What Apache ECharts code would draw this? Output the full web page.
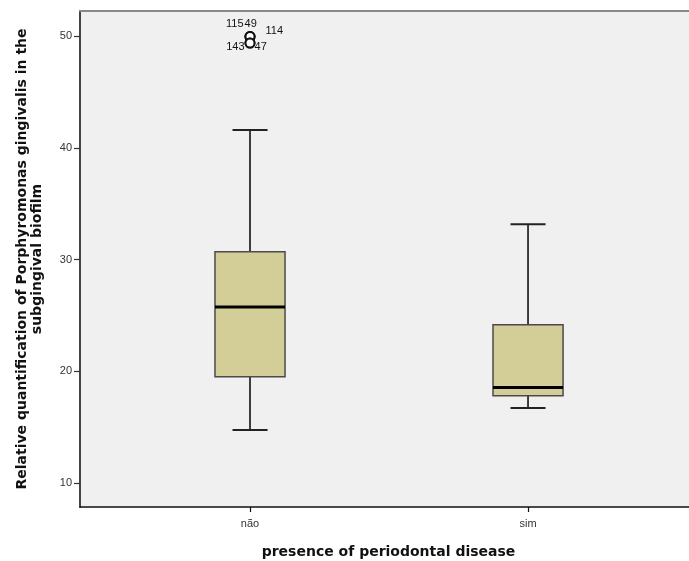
<!DOCTYPE html>
<html>
<head>
<meta charset="utf-8">
<script src="https://cdn.jsdelivr.net/npm/echarts@6/dist/echarts.min.js"></script>
<style>
  html, body { margin: 0; padding: 0; background: #fff; }
  #chart { width: 689px; height: 561px; }
</style>
</head>
<body>
<div id="chart"></div>
<script>
// categories along x (placed at 1 and 2 on a value axis)
const categories = ['não', 'sim'];
const lowWhisker = [14.75, 16.7];
const q1 = [19.5, 17.8];
const median = [25.75, 18.55];
const q3 = [30.7, 24.15];
const highWhisker = [41.6, 33.15];

// outliers (all in the "não" group)
const outlierIds = ['115', '49', '114', '143', '47'];
const outlierValues = [49.95, 49.95, 49.95, 49.37, 49.37];
const outlierGroup = [0, 0, 0, 0, 0];

const yTicks = [10, 20, 30, 40, 50];

// label placement of outlier case numbers (SPSS style)
const labelPlace = {
    '115': { position: [-1, -7.5], align: 'right' },
    '49': { position: [0, -7.5], align: 'left' },
    '114': { position: [21, -0.5], align: 'left' },
    '143': { position: [0, 9], align: 'right' },
    '47': { position: [10, 9], align: 'left' }
};

const boxData = categories.map((c, i) => [i + 1, lowWhisker[i], q1[i], median[i], q3[i], highWhisker[i]]);

const outlierData = outlierIds.map((id, i) => ({
    value: [outlierGroup[i] + 1, outlierValues[i]],
    name: id,
    label: {
        show: true,
        formatter: id,
        position: labelPlace[id].position,
        align: labelPlace[id].align,
        verticalAlign: 'middle'
    }
}));

const myChart = echarts.init(document.getElementById('chart'));

myChart.setOption({
    animation: false,
    backgroundColor: '#fff',
    grid: {
        left: 80, right: 0, top: 11, bottom: 54,
        outerBoundsMode: 'none',
        containLabel: false,
        show: true, backgroundColor: '#F0F0F0', borderWidth: 0
    },
    xAxis: [{
        type: 'value',
        min: 0.3885,
        max: 2.579,
        position: 'bottom',
        splitLine: { show: false },
        axisLine: { show: true, onZero: false, lineStyle: { color: '#111', width: 1.5 } },
        axisTick: { show: true, customValues: [1, 2], length: 5, lineStyle: { color: '#111', width: 1.2 } },
        axisLabel: {
            customValues: [1, 2],
            formatter: v => categories[Math.round(v) - 1] || '',
            color: '#333', fontFamily: 'Liberation Sans', fontSize: 11, margin: 11
        },
        name: 'presence of periodontal disease',
        nameLocation: 'middle',
        nameGap: 38,
        nameTextStyle: { fontFamily: 'DejaVu Sans', fontWeight: 'bold', fontSize: 14, color: '#111', padding: [0, 0, 0, 8] }
    }, {
        type: 'value',
        min: 0.3885,
        max: 2.579,
        position: 'top',
        splitLine: { show: false },
        axisLine: { show: true, onZero: false, lineStyle: { color: '#888', width: 2 } },
        axisTick: { show: false },
        axisLabel: { show: false }
    }],
    yAxis: {
        type: 'value',
        min: 7.85,
        max: 52.24,
        splitLine: { show: false },
        axisLine: { show: true, onZero: false, lineStyle: { color: '#444', width: 2 } },
        axisTick: { show: true, customValues: yTicks, length: 6, lineStyle: { color: '#333', width: 1.2 } },
        axisLabel: {
            customValues: yTicks,
            color: '#333', fontFamily: 'Liberation Sans', fontSize: 11, margin: 8
        },
        name: 'Relative quantification of Porphyromonas gingivalis in the\nsubgingival biofilm',
        nameLocation: 'middle',
        nameRotate: 90,
        nameGap: 35,
        nameTextStyle: {
            fontFamily: 'DejaVu Sans', fontWeight: 'bold', fontSize: 14, color: '#111',
            lineHeight: 15, align: 'center'
        }
    },
    series: [{
        type: 'custom',
        xAxisIndex: 0,
        data: boxData,
        encode: { x: 0, y: [1, 2, 3, 4, 5] },
        renderItem: function (params, api) {
            const x = api.value(0);
            const pLo = api.coord([x, api.value(1)]);
            const pQ1 = api.coord([x, api.value(2)]);
            const pMed = api.coord([x, api.value(3)]);
            const pQ3 = api.coord([x, api.value(4)]);
            const pHi = api.coord([x, api.value(5)]);
            const half = api.size([0.252, 0])[0] / 2;
            const cap = half / 2;
            const cx = pMed[0];
            const lineStyle = { stroke: '#111', lineWidth: 1.6 };
            return {
                type: 'group',
                children: [
                    { type: 'line', shape: { x1: cx, y1: pHi[1], x2: cx, y2: pQ3[1] }, style: lineStyle },
                    { type: 'line', shape: { x1: cx, y1: pQ1[1], x2: cx, y2: pLo[1] }, style: lineStyle },
                    { type: 'line', shape: { x1: cx - cap, y1: pHi[1], x2: cx + cap, y2: pHi[1] }, style: { stroke: '#222', lineWidth: 2 } },
                    { type: 'line', shape: { x1: cx - cap, y1: pLo[1], x2: cx + cap, y2: pLo[1] }, style: { stroke: '#222', lineWidth: 2 } },
                    {
                        type: 'rect',
                        shape: { x: cx - half, y: pQ3[1], width: half * 2, height: pQ1[1] - pQ3[1] },
                        style: { fill: '#D3CE98', stroke: '#4a4a4a', lineWidth: 1.5 }
                    },
                    { type: 'line', shape: { x1: cx - half, y1: pMed[1], x2: cx + half, y2: pMed[1] }, style: { stroke: '#000', lineWidth: 3 } }
                ]
            };
        }
    }, {
        type: 'scatter',
        xAxisIndex: 0,
        data: outlierData,
        symbol: 'emptyCircle',
        symbolSize: 9,
        itemStyle: { color: '#111', borderColor: '#111', borderWidth: 1.2, opacity: 1 },
        label: { color: '#111', fontFamily: 'Liberation Sans', fontSize: 11 }
    }]
});
</script>
</body>
</html>
